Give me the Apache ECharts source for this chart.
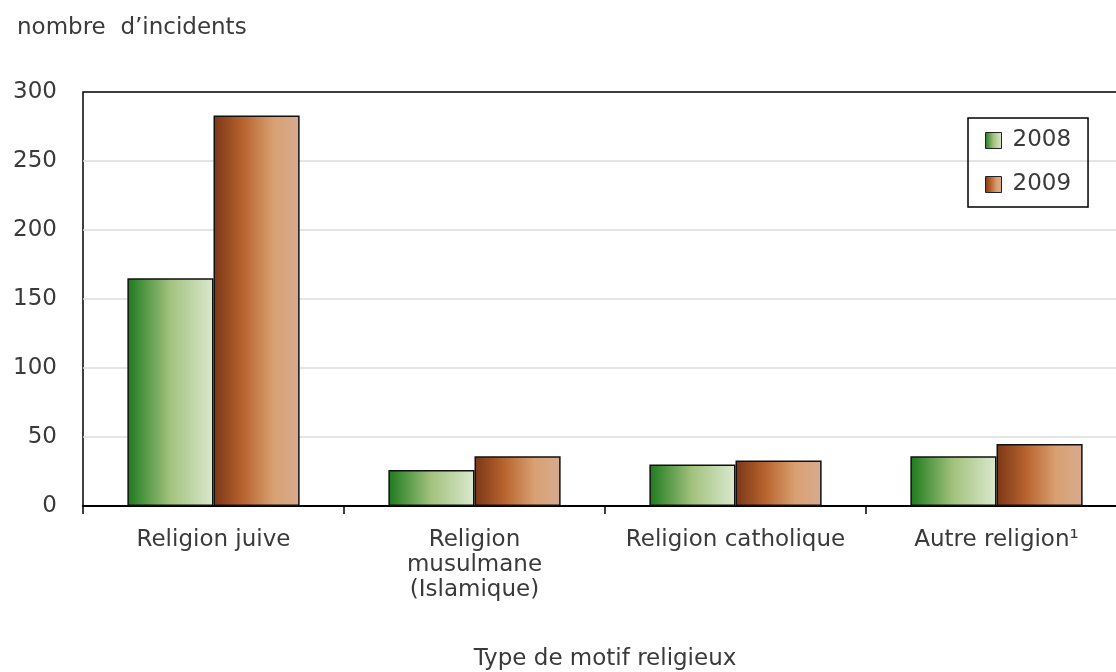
<!DOCTYPE html>
<html><head><meta charset="utf-8">
<script src="https://cdn.jsdelivr.net/npm/echarts@6/dist/echarts.min.js"></script>
<style>html,body{margin:0;padding:0;background:#fff}#c{width:1116px;height:672px}</style>
</head><body><div id="c"></div>
<script>
const categories = ["Religion juive", "Religion\nmusulmane\n(Islamique)", "Religion catholique", "Autre religion\u00b9"];
const series2008 = [165, 26, 30, 36];
const series2009 = [283, 36, 33, 45];
const yTicks = [0, 50, 100, 150, 200, 250, 300];

const font = '"DejaVu Sans", Verdana, sans-serif';
const FS = 23;
const green = {type:'linear',x:0,y:0,x2:1,y2:0,colorStops:[{offset:0,color:'#1d7a1d'},{offset:0.5,color:'#a3c27e'},{offset:1,color:'#dbe9cf'}]};
const brown = {type:'linear',x:0,y:0,x2:1,y2:0,colorStops:[{offset:0,color:'#7b3616'},{offset:0.35,color:'#b9642f'},{offset:0.7,color:'#d9a173'},{offset:1,color:'#d7aa90'}]};

const chart = echarts.init(document.getElementById('c'));
chart.setOption({
  animation:false,
  backgroundColor:'#fff',
  textStyle:{fontFamily:font},
  title:{text:"nombre  d\u2019incidents",left:12,top:12,textStyle:{fontFamily:font,fontSize:FS,fontWeight:'normal',color:'#3a3a3a'}},
  legend:{
    left:968, top:118, orient:'vertical', icon:'rect', itemWidth:16, itemHeight:16, itemGap:21,
    borderColor:'#000', borderWidth:1.5, padding:[11,17,11,17],
    textStyle:{fontFamily:font,fontSize:FS,color:'#3a3a3a',padding:[0,0,0,6]},
    data:[{name:'2008',itemStyle:{color:green,borderColor:'#222',borderWidth:1}},{name:'2009',itemStyle:{color:brown,borderColor:'#222',borderWidth:1}}]
  },
  grid:{left:83,width:1044,top:92,bottom:166,show:true,borderColor:'#000',borderWidth:1.5,backgroundColor:'transparent',outerBoundsMode:'none',containLabel:false},
  xAxis:{
    type:'category', data:categories,
    name:'Type de motif religieux', nameLocation:'middle', nameGap:142,
    nameTextStyle:{fontFamily:font,fontSize:FS,color:'#3a3a3a'},
    axisLine:{lineStyle:{color:'#000',width:2}},
    axisTick:{show:true,interval:0,length:8,lineStyle:{color:'#000',width:1.5}},
    axisLabel:{interval:0,hideOverlap:false,fontFamily:font,fontSize:FS,color:'#3a3a3a',margin:22,lineHeight:25}
  },
  yAxis:{
    type:'value', min:0, max:300, interval:50,
    axisLine:{show:false}, axisTick:{show:false},
    axisLabel:{fontFamily:font,fontSize:FS,color:'#3a3a3a',margin:26,
      formatter:v=>yTicks.includes(v)?String(v):''},
    splitLine:{showMaxLine:false,showMinLine:false,lineStyle:{color:'#dcdcdc',width:1.5}}
  },
  series:[
    {name:'2008',type:'bar',data:series2008,barGap:'0%',barCategoryGap:'34%',
     itemStyle:{color:green,borderColor:'#111',borderWidth:1.5}},
    {name:'2009',type:'bar',data:series2009,
     itemStyle:{color:brown,borderColor:'#111',borderWidth:1.5}}
  ]
});
</script></body></html>
